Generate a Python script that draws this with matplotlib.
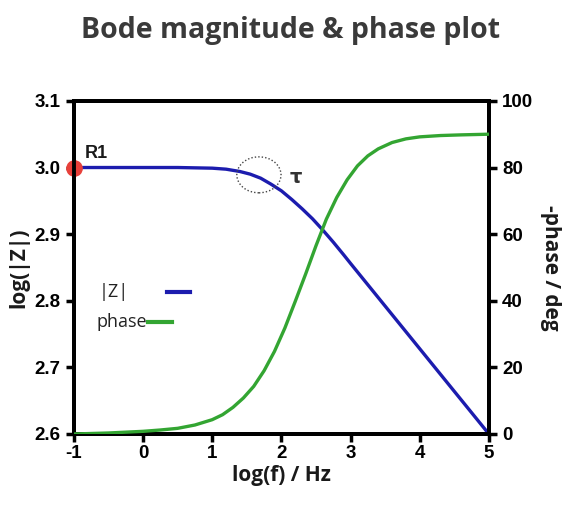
import matplotlib
matplotlib.use("Agg")
import matplotlib.pyplot as plt
from matplotlib.patches import Ellipse

# --- data ---
log_f_mag = [-1.0, -0.5, 0.0, 0.5, 1.0, 1.2, 1.4, 1.55, 1.7, 1.85, 2.0, 2.15, 2.3,
             2.45, 2.6, 2.75, 2.9, 3.0, 3.5, 4.0, 4.5, 5.0]
log_z = [3.000, 3.000, 3.000, 3.000, 2.999, 2.9975, 2.994, 2.990, 2.984, 2.975, 2.965,
         2.952, 2.938, 2.923, 2.906, 2.888, 2.869, 2.856, 2.792, 2.728, 2.664, 2.600]

log_f_ph = [-1.0, -0.5, 0.0, 0.25, 0.5, 0.75, 1.0, 1.15, 1.3, 1.45, 1.6, 1.75, 1.9,
            2.05, 2.2, 2.35, 2.5, 2.65, 2.8, 2.95, 3.1, 3.25, 3.4, 3.6, 3.8, 4.0,
            4.3, 4.6, 5.0]
phase = [0.0, 0.3, 0.8, 1.2, 1.7, 2.7, 4.3, 5.8, 8.0, 10.8, 14.3, 19.0, 24.8,
         31.8, 39.8, 48.0, 56.5, 64.5, 71.0, 76.3, 80.5, 83.5, 85.6, 87.5, 88.6,
         89.2, 89.6, 89.8, 90.0]

r1_point = (-1.0, 3.0)
tau_point = (1.675, 2.989)

x_ticks = [-1, 0, 1, 2, 3, 4, 5]
z_ticks = [2.6, 2.7, 2.8, 2.9, 3.0, 3.1]
ph_ticks = [0, 20, 40, 60, 80, 100]

BLUE = "#1c1cae"
GREEN = "#33a532"
RED = "#e8403a"

plt.rcParams["font.family"] = ["Liberation Sans", "DejaVu Sans"]

fig = plt.figure(figsize=(5.82, 5.07), dpi=100)
ax1 = fig.add_axes([0.127, 0.144, 0.713, 0.657])
ax2 = ax1.twinx()

ax1.plot(log_f_mag, log_z, color=BLUE, lw=2.4, solid_joinstyle="round", zorder=3)
ax2.plot(log_f_ph, phase, color=GREEN, lw=2.4, solid_joinstyle="round", zorder=3)
ax1.plot(*r1_point, "o", color=RED, ms=11, clip_on=False, zorder=5)

circle = Ellipse(tau_point, width=0.64, height=0.054, fill=False,
                 ls=(0, (1, 1.5)), lw=1.0, color="#444444", zorder=4)
ax1.add_patch(circle)

ax1.set_xlim(-1, 5)
ax1.set_ylim(2.6, 3.1)
ax2.set_ylim(0, 100)
ax1.set_xticks(x_ticks)
ax1.set_xticklabels([str(t) for t in x_ticks])
ax1.set_yticks(z_ticks)
ax1.set_yticklabels([f"{t:.1f}" for t in z_ticks])
ax2.set_yticks(ph_ticks)
ax2.set_yticklabels([str(t) for t in ph_ticks])

for ax in (ax1, ax2):
    for s in ax.spines.values():
        s.set_linewidth(2.8)
    ax.tick_params(width=2.5, length=6, labelsize=13.5, direction="out")
    for lab in ax.get_xticklabels() + ax.get_yticklabels():
        lab.set_fontweight("bold")
ax1.tick_params(axis="x", pad=2)

lab_font = dict(family="Open Sans", fontweight="bold", fontsize=15, color="#1a1a1a")
ax1.set_xlabel("log(f) / Hz", labelpad=2, **lab_font)
ax1.set_ylabel("log(|Z|)", labelpad=4, **lab_font)
ax2.set_ylabel("-phase / deg", rotation=270, labelpad=20, **lab_font)

# annotations
ax1.text(-0.85, 3.014, "R1", fontsize=13, fontweight="bold", color="#1a1a1a")
ax1.text(2.12, 2.985, "τ", fontsize=14, fontweight="bold", color="#333333",
         family=["DejaVu Sans"], va="center")

# hand-drawn legend
leg_font = dict(family="Open Sans", fontsize=13, color="#222222", va="center",
                transform=ax1.transAxes)
ax1.text(0.06, 0.427, "|Z|", **leg_font)
ax1.plot([0.225, 0.28], [0.427, 0.427], color=BLUE, lw=3, transform=ax1.transAxes)
ax1.text(0.055, 0.337, "phase", **leg_font)
ax1.plot([0.178, 0.237], [0.337, 0.337], color=GREEN, lw=3, transform=ax1.transAxes)

fig.suptitle("Bode magnitude & phase plot", x=0.5, y=0.968, fontsize=20.5,
             fontweight="bold", family="Open Sans", color="#3a3a3a")

fig.savefig("out.png", dpi=100)
